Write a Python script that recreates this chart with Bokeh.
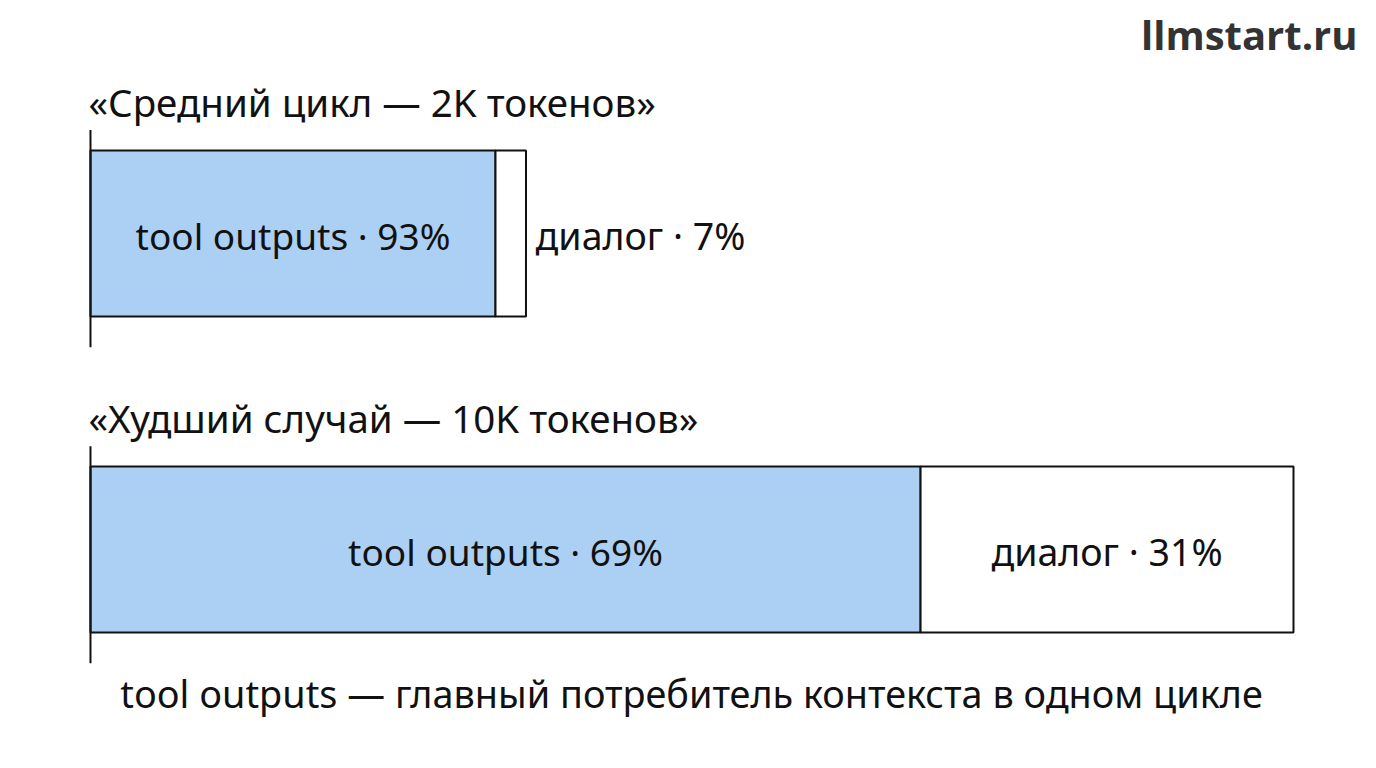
from bokeh.plotting import figure
from bokeh.models import ColumnDataSource, Range1d
from bokeh.core.properties import value
from bokeh.embed import file_html
from bokeh.resources import INLINE

# ---- data ----
titles = ["«Средний цикл — 2K токенов»", "«Худший случай — 10K токенов»"]
bar_scale = [0.362, 1.0]          # relative drawn bar length
tool_pct = [93, 69]
dialog_pct = [7, 31]
rows = [1, 0]                     # vertical position of each bar
footer = "tool outputs — главный потребитель контекста в одном цикле"
brand = "llmstart.ru"

FONT = "Noto Sans"
BLUE = "#acd0f4"
INK = "#111111"

W, H = 1360, 752
p = figure(width=W, height=H, output_backend="svg", toolbar_location=None,
           x_range=Range1d(-0.0748, 1.0557), y_range=Range1d(-0.642, 1.737),
           min_border=0)
p.outline_line_color = None
p.axis.visible = False
p.grid.visible = False
p.background_fill_color = "white"
p.border_fill_color = "white"

bh = 0.525
LBL_OFF = 0.006   # baseline offset of in-bar labels
tool_right = [s * t / 100 for s, t in zip(bar_scale, tool_pct)]
src = ColumnDataSource(dict(
    y=rows, left=[0, 0], tool_right=tool_right, total=bar_scale,
    tool_mid=[r / 2 for r in tool_right],
    lab_y=[r - LBL_OFF for r in rows],
    tool_lab=[f"tool outputs · {t}%" for t in tool_pct],
    title=titles,
    title_x=[-0.0017, -0.0017],
    ax_lo=[r - 0.36 for r in rows], ax_hi=[r + 0.327 for r in rows],
    title_y=[r + 0.415 for r in rows],
))

p.hbar(y="y", left="left", right="tool_right", height=bh, source=src,
       fill_color=BLUE, line_color=INK, line_width=2)
p.hbar(y="y", left="tool_right", right="total", height=bh, source=src,
       fill_color="white", line_color=INK, line_width=2)
p.segment(x0="left", x1="left", y0="ax_lo", y1="ax_hi", source=src,
          line_color=INK, line_width=2)

# titles
p.text(x="title_x", y="title_y", text="title", source=src,
       text_font=value(FONT), text_font_size="38.5px", text_color=INK,
       text_baseline="alphabetic", text_align="left")

# tool labels (centered in the blue part)
p.text(x="tool_mid", y="lab_y", text="tool_lab", source=src,
       text_font=value(FONT), text_font_size="37px", text_color=INK,
       text_baseline="alphabetic", text_align="center")

# dialog labels: outside for narrow first bar, inside for second
small = ColumnDataSource(dict(x=[bar_scale[0] + 0.008], y=[rows[0] - LBL_OFF],
                              t=[f"диалог · {dialog_pct[0]}%"]))
p.text(x="x", y="y", text="t", source=small,
       text_font=value(FONT), text_font_size="37.5px", text_color=INK,
       text_baseline="alphabetic", text_align="left")
big = ColumnDataSource(dict(x=[(tool_right[1] + bar_scale[1]) / 2], y=[rows[1] - LBL_OFF],
                            t=[f"диалог · {dialog_pct[1]}%"]))
p.text(x="x", y="y", text="t", source=big,
       text_font=value(FONT), text_font_size="37.5px", text_color=INK,
       text_baseline="alphabetic", text_align="center")

# footer
p.text(x=[0.4996], y=[-0.455], text=[footer],
       text_font=value(FONT), text_font_size="37.8px", text_color=INK,
       text_baseline="alphabetic", text_align="center")

# brand
p.text(x=[1.0532], y=[1.629], text=[brand],
       text_font=value("Open Sans"), text_font_size="40px", text_font_style="bold",
       text_color="#333333", text_baseline="alphabetic", text_align="right")

open("out.html", "w").write(file_html(p, INLINE))
